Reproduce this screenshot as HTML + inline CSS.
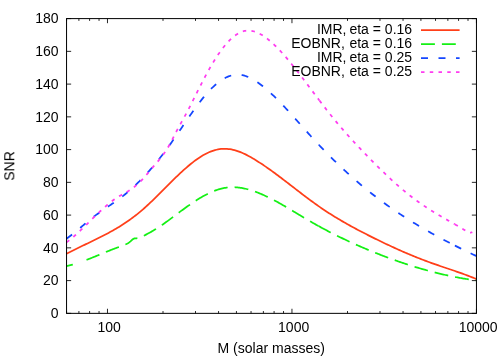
<!DOCTYPE html>
<html><head><meta charset="utf-8"><title>SNR vs M</title>
<style>
html,body{margin:0;padding:0;background:#fff;}
body{width:499px;height:357px;overflow:hidden;}
svg{display:block;}
text{font-family:"Liberation Sans",sans-serif;font-size:14px;fill:#000;}
.ax{fill:none;stroke:#000;stroke-width:1;}
.tk{stroke-width:0.85;}
.c{fill:none;stroke-width:1.75;stroke-linejoin:round;stroke-linecap:butt;}
.red{stroke:#ff3f19;}
.green{stroke:#14f014;stroke-dasharray:13.9 7;}
.g0{stroke-dasharray:6.5 14.5 13.9 7 13.9 7 13.9 7 13.9 7 13.9 7 13.9 7 13.9 7 13.9 7 13.9 7 13.9 7 13.9 7 13.9 7 13.9 7 13.9 7 13.9 7 13.9 7 13.9 7 13.9 7 13.9 7 13.9 7 13.9 7 13.9 7 13.9 7 13.9 7 13.9 7 13.9 7 13.9 7 13.9 7 13.9 7 13.9 7;}
.blue{stroke:#1446ff;stroke-dasharray:7 10.5;}
.mag{stroke:#ff3cf0;stroke-dasharray:3.5 5.25;}
</style></head><body>
<svg width="499" height="357" viewBox="0 0 499 357">
<rect width="499" height="357" fill="#fff"/>
<path class="c red" d="M66.50,253.80 L68.00,253.02 L69.50,252.24 L71.00,251.48 L72.50,250.72 L74.00,249.97 L75.50,249.22 L77.00,248.49 L78.50,247.76 L80.00,247.03 L81.50,246.30 L83.00,245.58 L84.50,244.86 L86.00,244.15 L87.50,243.43 L89.00,242.71 L90.50,241.99 L92.00,241.26 L93.50,240.54 L95.00,239.81 L96.50,239.07 L98.00,238.33 L99.50,237.59 L101.00,236.83 L102.50,236.07 L104.00,235.30 L105.50,234.52 L107.00,233.72 L108.50,232.92 L110.00,232.10 L111.50,231.27 L113.00,230.43 L114.50,229.57 L116.00,228.70 L117.50,227.81 L119.00,226.90 L120.50,225.97 L122.00,225.03 L123.50,224.06 L125.00,223.07 L126.50,222.07 L128.00,221.04 L129.50,219.98 L131.00,218.91 L132.50,217.80 L134.00,216.67 L135.50,215.52 L137.00,214.34 L138.50,213.13 L140.00,211.89 L141.50,210.62 L143.00,209.32 L144.50,207.99 L146.00,206.64 L147.50,205.27 L149.00,203.87 L150.50,202.45 L152.00,201.02 L153.50,199.57 L155.00,198.11 L156.50,196.63 L158.00,195.15 L159.50,193.65 L161.00,192.15 L162.50,190.65 L164.00,189.14 L165.50,187.64 L167.00,186.13 L168.50,184.63 L170.00,183.13 L171.50,181.64 L173.00,180.16 L174.50,178.69 L176.00,177.23 L177.50,175.79 L179.00,174.36 L180.50,172.95 L182.00,171.56 L183.50,170.20 L185.00,168.86 L186.50,167.54 L188.00,166.26 L189.50,165.00 L191.00,163.77 L192.50,162.58 L194.00,161.43 L195.50,160.31 L197.00,159.23 L198.50,158.20 L200.00,157.21 L201.50,156.26 L203.00,155.36 L204.50,154.51 L206.00,153.71 L207.50,152.97 L209.00,152.28 L210.50,151.65 L212.00,151.08 L213.50,150.57 L215.00,150.12 L216.50,149.74 L218.00,149.42 L219.50,149.17 L221.00,148.99 L222.50,148.87 L224.00,148.81 L225.50,148.82 L227.00,148.89 L228.50,149.03 L230.00,149.22 L231.50,149.47 L233.00,149.79 L234.50,150.16 L236.00,150.58 L237.50,151.06 L239.00,151.59 L240.50,152.17 L242.00,152.79 L243.50,153.46 L245.00,154.16 L246.50,154.90 L248.00,155.68 L249.50,156.49 L251.00,157.33 L252.50,158.20 L254.00,159.09 L255.50,160.01 L257.00,160.94 L258.50,161.89 L260.00,162.86 L261.50,163.85 L263.00,164.85 L264.50,165.86 L266.00,166.89 L267.50,167.94 L269.00,168.99 L270.50,170.06 L272.00,171.14 L273.50,172.23 L275.00,173.33 L276.50,174.44 L278.00,175.56 L279.50,176.68 L281.00,177.81 L282.50,178.95 L284.00,180.09 L285.50,181.24 L287.00,182.39 L288.50,183.55 L290.00,184.70 L291.50,185.86 L293.00,187.02 L294.50,188.18 L296.00,189.33 L297.50,190.49 L299.00,191.64 L300.50,192.80 L302.00,193.94 L303.50,195.09 L305.00,196.22 L306.50,197.36 L308.00,198.48 L309.50,199.60 L311.00,200.71 L312.50,201.81 L314.00,202.90 L315.50,203.98 L317.00,205.05 L318.50,206.11 L320.00,207.15 L321.50,208.18 L323.00,209.20 L324.50,210.21 L326.00,211.20 L327.50,212.18 L329.00,213.15 L330.50,214.11 L332.00,215.05 L333.50,215.99 L335.00,216.91 L336.50,217.83 L338.00,218.73 L339.50,219.62 L341.00,220.51 L342.50,221.38 L344.00,222.25 L345.50,223.10 L347.00,223.95 L348.50,224.79 L350.00,225.63 L351.50,226.45 L353.00,227.27 L354.50,228.08 L356.00,228.88 L357.50,229.68 L359.00,230.47 L360.50,231.26 L362.00,232.04 L363.50,232.81 L365.00,233.58 L366.50,234.34 L368.00,235.11 L369.50,235.86 L371.00,236.61 L372.50,237.36 L374.00,238.11 L375.50,238.85 L377.00,239.59 L378.50,240.32 L380.00,241.05 L381.50,241.77 L383.00,242.49 L384.50,243.21 L386.00,243.92 L387.50,244.63 L389.00,245.33 L390.50,246.03 L392.00,246.72 L393.50,247.41 L395.00,248.10 L396.50,248.77 L398.00,249.45 L399.50,250.12 L401.00,250.78 L402.50,251.44 L404.00,252.09 L405.50,252.74 L407.00,253.38 L408.50,254.01 L410.00,254.64 L411.50,255.27 L413.00,255.89 L414.50,256.50 L416.00,257.11 L417.50,257.71 L419.00,258.30 L420.50,258.89 L422.00,259.47 L423.50,260.05 L425.00,260.61 L426.50,261.18 L428.00,261.73 L429.50,262.28 L431.00,262.82 L432.50,263.36 L434.00,263.89 L435.50,264.41 L437.00,264.93 L438.50,265.45 L440.00,265.96 L441.50,266.47 L443.00,266.97 L444.50,267.48 L446.00,267.98 L447.50,268.49 L449.00,269.00 L450.50,269.50 L452.00,270.01 L453.50,270.52 L455.00,271.04 L456.50,271.55 L458.00,272.07 L459.50,272.60 L461.00,273.13 L462.50,273.67 L464.00,274.22 L465.50,274.77 L467.00,275.33 L468.50,275.90 L470.00,276.48 L471.50,277.07 L473.00,277.68 L474.50,278.29 L476.00,278.91 L476.30,279.04"/>
<path class="c green g0" d="M66.50,266.11 L67.50,265.88 L68.50,265.65 L69.50,265.40 L70.50,265.14 L71.50,264.88 L72.50,264.60 L73.50,264.31 L74.50,264.02 L75.50,263.72 L76.50,263.40 L77.50,263.08 L78.50,262.76 L79.50,262.42 L80.50,262.08 L81.50,261.73 L82.50,261.37 L83.50,261.01 L84.50,260.65 L85.50,260.27 L86.50,259.90 L87.50,259.52 L88.50,259.13 L89.50,258.74 L90.50,258.34 L91.50,257.95 L92.50,257.55 L93.50,257.14 L94.50,256.74 L95.50,256.33 L96.50,255.92 L97.50,255.51 L98.50,255.10 L99.50,254.68 L100.50,254.27 L101.50,253.86 L102.50,253.44 L103.50,253.03 L104.50,252.62 L105.50,252.21 L106.50,251.80 L107.50,251.39 L108.50,250.99 L109.50,250.58 L110.50,250.18 L111.50,249.79 L112.50,249.40 L113.50,249.01 L114.50,248.62 L115.50,248.24 L116.50,247.87 L117.50,247.50 L118.50,247.13 L119.50,246.78 L120.50,246.42 L121.50,246.06 L122.50,245.69 L123.50,245.31 L124.50,244.91 L125.50,244.48 L126.50,244.01 L127.50,243.49 L128.50,242.89 L129.50,242.19 L130.50,241.35 L131.50,240.41 L132.50,239.52 L133.50,238.82 L134.50,238.43 L135.50,238.29 L136.50,238.26 L137.50,238.18 L138.50,237.99 L139.50,237.70 L140.50,237.34 L141.50,236.91 L142.50,236.43 L143.50,235.93 L144.50,235.41 L145.50,234.89 L146.50,234.36 L147.50,233.82 L148.50,233.28 L149.50,232.74 L150.50,232.18 L151.50,231.62 L152.50,231.05 L153.50,230.46 L154.50,229.87 L155.50,229.26 L156.50,228.64 L157.50,228.00 L158.50,227.36 L159.50,226.70 L160.50,226.03 L161.50,225.35 L162.50,224.67 L163.50,223.97 L164.50,223.26 L165.50,222.55 L166.50,221.83 L167.50,221.10 L168.50,220.37 L169.50,219.64 L170.50,218.89 L171.50,218.15 L172.50,217.40 L173.50,216.65 L174.50,215.90 L175.50,215.15 L176.50,214.40 L177.50,213.65 L178.50,212.90 L179.50,212.16 L180.50,211.41 L181.50,210.67 L182.50,209.93 L183.50,209.20 L184.50,208.47 L185.50,207.75 L186.50,207.03 L187.50,206.31 L188.50,205.61 L189.50,204.91 L190.50,204.21 L191.50,203.53 L192.50,202.85 L193.50,202.18 L194.50,201.52 L195.50,200.87 L196.50,200.22 L197.50,199.59 L198.50,198.97 L199.50,198.36 L200.50,197.76 L201.50,197.17 L202.50,196.60 L203.50,196.04 L204.50,195.49 L205.50,194.95 L206.50,194.43 L207.50,193.92 L208.50,193.43 L209.50,192.96 L210.50,192.50 L211.50,192.05 L212.50,191.62 L213.50,191.21 L214.50,190.82 L215.50,190.44 L216.50,190.09 L217.50,189.75 L218.50,189.43 L219.50,189.13 L220.50,188.85 L221.50,188.59 L222.50,188.36 L223.50,188.14 L224.50,187.95 L225.50,187.77 L226.50,187.62 L227.50,187.50 L228.50,187.40 L229.50,187.32 L230.50,187.26 L231.50,187.22 L232.50,187.21 L233.50,187.21 L234.50,187.24 L235.50,187.28 L236.50,187.35 L237.50,187.44 L238.50,187.54 L239.50,187.66 L240.50,187.80 L241.50,187.96 L242.50,188.13 L243.50,188.33 L244.50,188.53 L245.50,188.76 L246.50,189.00 L247.50,189.25 L248.50,189.52 L249.50,189.80 L250.50,190.10 L251.50,190.41 L252.50,190.74 L253.50,191.07 L254.50,191.42 L255.50,191.78 L256.50,192.15 L257.50,192.53 L258.50,192.93 L259.50,193.33 L260.50,193.74 L261.50,194.17 L262.50,194.60 L263.50,195.04 L264.50,195.50 L265.50,195.96 L266.50,196.43 L267.50,196.91 L268.50,197.39 L269.50,197.89 L270.50,198.39 L271.50,198.90 L272.50,199.41 L273.50,199.94 L274.50,200.46 L275.50,201.00 L276.50,201.54 L277.50,202.09 L278.50,202.64 L279.50,203.20 L280.50,203.76 L281.50,204.33 L282.50,204.90 L283.50,205.47 L284.50,206.05 L285.50,206.63 L286.50,207.22 L287.50,207.81 L288.50,208.40 L289.50,208.99 L290.50,209.59 L291.50,210.18 L292.50,210.78 L293.50,211.38 L294.50,211.98 L295.50,212.59 L296.50,213.19 L297.50,213.79 L298.50,214.39 L299.50,215.00 L300.50,215.60 L301.50,216.20 L302.50,216.80 L303.50,217.40 L304.50,217.99 L305.50,218.59 L306.50,219.18 L307.50,219.77 L308.50,220.36 L309.50,220.94 L310.50,221.52 L311.50,222.10 L312.50,222.67 L313.50,223.24 L314.50,223.81 L315.50,224.37 L316.50,224.93 L317.50,225.49 L318.50,226.04"/>
<path class="c green" d="M318.50,226.04 L318.50,226.04 L319.50,226.59 L320.50,227.14 L321.50,227.68 L322.50,228.22 L323.50,228.76 L324.50,229.29 L325.50,229.82 L326.50,230.35 L327.50,230.87 L328.50,231.40 L329.50,231.91 L330.50,232.43 L331.50,232.94 L332.50,233.45 L333.50,233.96 L334.50,234.46 L335.50,234.96 L336.50,235.46 L337.50,235.95 L338.50,236.44 L339.50,236.93 L340.50,237.42 L341.50,237.90 L342.50,238.38 L343.50,238.86 L344.50,239.33 L345.50,239.81 L346.50,240.28 L347.50,240.74 L348.50,241.21 L349.50,241.67 L350.50,242.13 L351.50,242.58 L352.50,243.04 L353.50,243.49 L354.50,243.94 L355.50,244.39 L356.50,244.83 L357.50,245.27 L358.50,245.71 L359.50,246.15 L360.50,246.58 L361.50,247.02 L362.50,247.45 L363.50,247.88 L364.50,248.30 L365.50,248.72 L366.50,249.15 L367.50,249.57 L368.50,249.98 L369.50,250.40 L370.50,250.81 L371.50,251.22 L372.50,251.63 L373.50,252.04 L374.50,252.44 L375.50,252.84 L376.50,253.24 L377.50,253.64 L378.50,254.04 L379.50,254.43 L380.50,254.82 L381.50,255.21 L382.50,255.60 L383.50,255.98 L384.50,256.36 L385.50,256.74 L386.50,257.12 L387.50,257.50 L388.50,257.87 L389.50,258.24 L390.50,258.61 L391.50,258.98 L392.50,259.34 L393.50,259.70 L394.50,260.06 L395.50,260.42 L396.50,260.77 L397.50,261.12 L398.50,261.47 L399.50,261.82 L400.50,262.16 L401.50,262.51 L402.50,262.85 L403.50,263.18 L404.50,263.52 L405.50,263.85 L406.50,264.18 L407.50,264.51 L408.50,264.83 L409.50,265.15 L410.50,265.47 L411.50,265.79 L412.50,266.11 L413.50,266.42 L414.50,266.73 L415.50,267.04 L416.50,267.34 L417.50,267.64 L418.50,267.94 L419.50,268.24 L420.50,268.53 L421.50,268.82 L422.50,269.11 L423.50,269.40 L424.50,269.68 L425.50,269.96 L426.50,270.24 L427.50,270.51 L428.50,270.79 L429.50,271.06 L430.50,271.32 L431.50,271.59 L432.50,271.85 L433.50,272.11 L434.50,272.36 L435.50,272.62 L436.50,272.87 L437.50,273.11 L438.50,273.36 L439.50,273.60 L440.50,273.84 L441.50,274.07 L442.50,274.31 L443.50,274.54 L444.50,274.76 L445.50,274.99 L446.50,275.21 L447.50,275.43 L448.50,275.65 L449.50,275.86 L450.50,276.07 L451.50,276.27 L452.50,276.48 L453.50,276.68 L454.50,276.88 L455.50,277.07 L456.50,277.26 L457.50,277.45 L458.50,277.64 L459.50,277.82 L460.50,278.00 L461.50,278.18 L462.50,278.35 L463.50,278.52 L464.50,278.69 L465.50,278.85 L466.50,279.01 L467.50,279.17 L468.50,279.33 L469.50,279.48 L470.50,279.63 L471.50,279.77 L472.50,279.91 L473.50,280.05 L474.50,280.19 L475.50,280.32 L476.50,280.45"/>
<path class="c blue" d="M66.50,238.79 L67.50,238.05 L68.50,237.30 L69.50,236.54 L70.50,235.76 L71.50,234.98 L72.50,234.18 L73.50,233.38 L74.50,232.56 L75.50,231.74 L76.50,230.92 L77.50,230.09 L78.50,229.25 L79.50,228.42 L80.50,227.58 L81.50,226.74 L82.50,225.90 L83.50,225.06 L84.50,224.22 L85.50,223.39 L86.50,222.56 L87.50,221.73 L88.50,220.91 L89.50,220.10 L90.50,219.29 L91.50,218.50 L92.50,217.71 L93.50,216.93 L94.50,216.17 L95.50,215.41 L96.50,214.67 L97.50,213.94 L98.50,213.22 L99.50,212.50 L100.50,211.80 L101.50,211.10 L102.50,210.41 L103.50,209.72 L104.50,209.03 L105.50,208.35 L106.50,207.67 L107.50,207.00 L108.50,206.32 L109.50,205.64 L110.50,204.96 L111.50,204.28 L112.50,203.59 L113.50,202.91 L114.50,202.21 L115.50,201.51 L116.50,200.80 L117.50,200.09 L118.50,199.36 L119.50,198.63 L120.50,197.88 L121.50,197.13 L122.50,196.36 L123.50,195.57 L124.50,194.78 L125.50,193.97 L126.50,193.15 L127.50,192.31 L128.50,191.46 L129.50,190.60 L130.50,189.72 L131.50,188.83 L132.50,187.93 L133.50,187.02 L134.50,186.09 L135.50,185.15 L136.50,184.19 L137.50,183.22 L138.50,182.24 L139.50,181.25 L140.50,180.24 L141.50,179.22 L142.50,178.18 L143.50,177.14 L144.50,176.08 L145.50,175.00 L146.50,173.91 L147.50,172.81 L148.50,171.70 L149.50,170.57 L150.50,169.43 L151.50,168.28 L152.50,167.11 L153.50,165.94 L154.50,164.74 L155.50,163.54 L156.50,162.32 L157.50,161.09 L158.50,159.84 L159.50,158.58 L160.50,157.31 L161.50,156.03 L162.50,154.73 L163.50,153.42 L164.50,152.10 L165.50,150.76 L166.50,149.41 L167.50,148.05 L168.50,146.67 L169.50,145.28 L170.50,143.88 L171.50,142.46 L172.50,141.04 L173.50,139.61 L174.50,138.17 L175.50,136.72 L176.50,135.26 L177.50,133.80 L178.50,132.34 L179.50,130.87 L180.50,129.40 L181.50,127.93 L182.50,126.46 L183.50,124.99 L184.50,123.52 L185.50,122.06 L186.50,120.60 L187.50,119.14 L188.50,117.69 L189.50,116.25 L190.50,114.82 L191.50,113.39 L192.50,111.98 L193.50,110.57 L194.50,109.19 L195.50,107.81 L196.50,106.45 L197.50,105.10 L198.50,103.77 L199.50,102.46 L200.50,101.17 L201.50,99.89 L202.50,98.64 L203.50,97.41 L204.50,96.20 L205.50,95.02 L206.50,93.86 L207.50,92.73 L208.50,91.63 L209.50,90.55 L210.50,89.50 L211.50,88.48 L212.50,87.50 L213.50,86.54 L214.50,85.62 L215.50,84.73 L216.50,83.88 L217.50,83.05 L218.50,82.27 L219.50,81.51 L220.50,80.80 L221.50,80.12 L222.50,79.47 L223.50,78.87 L224.50,78.30 L225.50,77.77 L226.50,77.28 L227.50,76.83 L228.50,76.42 L229.50,76.05 L230.50,75.72 L231.50,75.44 L232.50,75.19 L233.50,74.99 L234.50,74.84 L235.50,74.72 L236.50,74.65 L237.50,74.63 L238.50,74.65 L239.50,74.72 L240.50,74.83 L241.50,74.99 L242.50,75.18 L243.50,75.42 L244.50,75.69 L245.50,76.00 L246.50,76.35 L247.50,76.74 L248.50,77.16 L249.50,77.61 L250.50,78.10 L251.50,78.61 L252.50,79.16 L253.50,79.74 L254.50,80.34 L255.50,80.97 L256.50,81.63 L257.50,82.31 L258.50,83.01 L259.50,83.74 L260.50,84.49 L261.50,85.26 L262.50,86.04 L263.50,86.85 L264.50,87.67 L265.50,88.51 L266.50,89.36 L267.50,90.23 L268.50,91.11 L269.50,92.01 L270.50,92.92 L271.50,93.85 L272.50,94.79 L273.50,95.74 L274.50,96.71 L275.50,97.68 L276.50,98.67 L277.50,99.67 L278.50,100.67 L279.50,101.69 L280.50,102.72 L281.50,103.76 L282.50,104.80 L283.50,105.86 L284.50,106.92 L285.50,107.99 L286.50,109.06 L287.50,110.14 L288.50,111.23 L289.50,112.33 L290.50,113.42 L291.50,114.53 L292.50,115.63 L293.50,116.75 L294.50,117.86 L295.50,118.98 L296.50,120.10 L297.50,121.22 L298.50,122.34 L299.50,123.46 L300.50,124.59 L301.50,125.71 L302.50,126.84 L303.50,127.96 L304.50,129.08 L305.50,130.20 L306.50,131.32 L307.50,132.44 L308.50,133.55 L309.50,134.66 L310.50,135.76 L311.50,136.86 L312.50,137.96 L313.50,139.05 L314.50,140.14 L315.50,141.22 L316.50,142.29 L317.50,143.36 L318.50,144.43 L318.80,144.74"/>
<path class="c blue" d="M318.80,144.74 L319.50,145.49 L320.50,146.54 L321.50,147.59 L322.50,148.64 L323.50,149.68 L324.50,150.71 L325.50,151.74 L326.50,152.76 L327.50,153.78 L328.50,154.79 L329.50,155.80 L330.50,156.81 L331.50,157.80 L332.50,158.80 L333.50,159.78 L334.50,160.77 L335.50,161.74 L336.50,162.72 L337.50,163.68 L338.50,164.64 L339.50,165.60 L340.50,166.55 L341.50,167.50 L342.50,168.44 L343.50,169.37 L344.50,170.30 L345.50,171.23 L346.50,172.15 L347.50,173.06 L348.50,173.97 L349.50,174.88 L350.50,175.78 L351.50,176.67 L352.50,177.56 L353.50,178.44 L354.50,179.32 L355.50,180.19 L356.50,181.06 L357.50,181.92 L358.50,182.78 L359.50,183.63 L360.50,184.48 L361.50,185.32 L362.50,186.16 L363.50,186.99 L364.50,187.81 L365.50,188.63 L366.50,189.45 L367.50,190.26 L368.50,191.06 L369.50,191.86 L370.50,192.66 L371.50,193.45 L372.50,194.24 L373.50,195.02 L374.50,195.79 L375.50,196.56 L376.50,197.33 L377.50,198.09 L378.50,198.85 L379.50,199.60 L380.50,200.35 L381.50,201.09 L382.50,201.83 L383.50,202.56 L384.50,203.29 L385.50,204.01 L386.50,204.73 L387.50,205.45 L388.50,206.16 L389.50,206.87 L390.50,207.57 L391.50,208.27 L392.50,208.96 L393.50,209.66 L394.50,210.34 L395.50,211.02 L396.50,211.70 L397.50,212.38 L398.50,213.05 L399.50,213.71 L400.50,214.38 L401.50,215.03 L402.50,215.69 L403.50,216.34 L404.50,216.99 L405.50,217.63 L406.50,218.27 L407.50,218.91 L408.50,219.54 L409.50,220.17 L410.50,220.79 L411.50,221.41 L412.50,222.03 L413.50,222.65 L414.50,223.26 L415.50,223.87 L416.50,224.47 L417.50,225.07 L418.50,225.67 L419.50,226.27 L420.50,226.86 L421.50,227.45 L422.50,228.04 L423.50,228.62 L424.50,229.20 L425.50,229.78 L426.50,230.35 L427.50,230.92 L428.50,231.49 L429.50,232.05 L430.50,232.62 L431.50,233.18 L432.50,233.73 L433.50,234.29 L434.50,234.84 L435.50,235.39 L436.50,235.93 L437.50,236.48 L438.50,237.02 L439.50,237.56 L440.50,238.09 L441.50,238.63 L442.50,239.16 L443.50,239.69 L444.50,240.22 L445.50,240.74 L446.50,241.26 L447.50,241.78 L448.50,242.30 L449.50,242.82 L450.50,243.33 L451.50,243.84 L452.50,244.35 L453.50,244.86 L454.50,245.37 L454.90,245.57"/>
<path class="c blue" d="M454.90,245.57 L455.50,245.87 L456.50,246.37 L457.50,246.88 L458.50,247.37 L459.50,247.87 L460.50,248.37 L461.50,248.86 L462.50,249.35 L463.50,249.84 L464.50,250.33 L465.50,250.82 L466.50,251.30 L467.50,251.79 L468.50,252.27 L469.50,252.75 L470.50,253.23 L471.50,253.71 L472.50,254.19 L473.50,254.67 L474.50,255.14 L475.50,255.62 L476.30,255.99"/>
<path class="c mag" d="M66.50,242.42 L67.50,241.67 L68.50,240.90 L69.50,240.11 L70.50,239.30 L71.50,238.47 L72.50,237.63 L73.50,236.77 L74.50,235.90 L75.50,235.01 L76.50,234.11 L77.50,233.20 L78.50,232.27 L79.50,231.34 L80.50,230.40 L81.50,229.45 L82.50,228.49 L83.50,227.52 L84.50,226.55 L85.50,225.57 L86.50,224.60 L87.50,223.61 L88.50,222.63 L89.50,221.64 L90.50,220.66 L91.50,219.67 L92.50,218.69 L93.50,217.71 L94.50,216.74 L95.50,215.77 L96.50,214.80 L97.50,213.84 L98.50,212.89 L99.50,211.94 L100.50,211.01 L101.50,210.08 L102.50,209.17 L103.50,208.26 L104.50,207.37 L105.50,206.49 L106.50,205.63 L107.50,204.78 L108.50,203.94 L109.50,203.13 L110.50,202.33 L111.50,201.55 L112.50,200.79 L113.50,200.04 L114.50,199.32 L115.50,198.63 L116.50,197.95 L117.50,197.30 L118.50,196.67 L119.50,196.07 L120.50,195.49 L121.50,194.93 L122.50,194.37 L123.50,193.83 L124.50,193.28 L125.50,192.72 L126.50,192.16 L127.50,191.57 L128.50,190.97 L129.50,190.33 L130.50,189.67 L131.50,188.98 L132.50,188.27 L133.50,187.52 L134.50,186.74 L135.50,185.93 L136.50,185.09 L137.50,184.21 L138.50,183.30 L139.50,182.36 L140.50,181.38 L141.50,180.36 L142.50,179.31 L143.50,178.22 L144.50,177.10 L145.50,175.95 L146.50,174.79 L147.50,173.60 L148.50,172.41 L149.50,171.21 L150.50,170.01 L151.50,168.81 L152.50,167.62 L153.50,166.44 L154.50,165.27 L155.50,164.11 L156.50,162.96 L157.50,161.79 L158.50,160.61 L159.50,159.41 L160.50,158.18 L161.50,156.92 L162.50,155.62 L163.50,154.27 L164.50,152.86 L165.50,151.40 L166.50,149.86 L167.50,148.25 L168.50,146.55 L169.50,144.77 L170.50,142.93 L171.50,141.03 L172.50,139.09 L173.50,137.13 L174.50,135.16 L175.50,133.20 L176.50,131.27 L177.50,129.38 L178.50,127.53 L179.50,125.70 L180.50,123.90 L181.50,122.10 L182.50,120.31 L183.50,118.52 L184.50,116.71 L185.50,114.88 L186.50,113.02 L187.50,111.13 L188.50,109.22 L189.50,107.30 L190.50,105.35 L191.50,103.39 L192.50,101.42 L193.50,99.44 L194.50,97.45 L195.50,95.46 L196.50,93.47 L197.50,91.48 L198.50,89.50 L199.50,87.52 L200.50,85.55 L201.50,83.59 L202.50,81.65 L203.50,79.73 L204.50,77.82 L205.50,75.94 L206.50,74.09 L207.50,72.26 L208.50,70.46 L209.50,68.68 L210.50,66.94 L211.50,65.22 L212.50,63.54 L213.50,61.88 L214.50,60.26 L215.50,58.67 L216.50,57.12 L217.50,55.60 L218.50,54.11 L219.50,52.67 L220.50,51.26 L221.50,49.89 L222.50,48.55 L223.50,47.26 L224.50,46.01 L225.50,44.80 L226.50,43.64 L227.50,42.51 L228.50,41.44 L229.50,40.40 L230.50,39.42 L231.50,38.48 L232.50,37.59 L233.50,36.75 L234.50,35.96 L235.50,35.21 L236.50,34.52 L237.50,33.89 L238.50,33.30 L239.50,32.77 L240.50,32.30 L241.50,31.88 L242.50,31.52 L243.50,31.22 L244.50,30.97 L245.50,30.79 L246.50,30.66 L247.50,30.59 L248.50,30.57 L249.50,30.61 L250.50,30.70 L251.50,30.84 L252.50,31.03 L253.50,31.27 L254.50,31.56 L255.50,31.89 L256.50,32.26 L257.50,32.68 L258.50,33.14 L259.50,33.64 L260.50,34.18 L261.50,34.76 L262.50,35.37 L263.50,36.01 L264.50,36.69 L265.50,37.41 L266.50,38.15 L267.50,38.92 L268.50,39.72 L269.50,40.54 L270.50,41.39 L271.50,42.27 L272.50,43.17 L273.50,44.09 L274.50,45.04 L275.50,46.00 L276.50,46.99 L277.50,48.00 L278.50,49.04 L279.50,50.09 L280.50,51.15 L281.50,52.24 L282.50,53.35 L283.50,54.47 L284.50,55.60 L285.50,56.76 L286.50,57.92 L287.50,59.10 L288.50,60.30 L289.50,61.50 L290.50,62.72 L291.50,63.95 L292.50,65.19 L293.50,66.44 L294.50,67.70 L295.50,68.97 L296.50,70.24 L297.50,71.53 L298.50,72.82 L299.50,74.11 L300.50,75.41 L301.50,76.72 L302.50,78.02 L303.50,79.34 L304.50,80.66 L305.50,81.98 L306.50,83.30 L307.50,84.63 L308.50,85.95 L309.50,87.28 L310.50,88.61 L311.50,89.94 L312.50,91.28 L313.50,92.61 L314.50,93.94 L315.50,95.26 L316.50,96.59 L317.50,97.92 L318.50,99.24 L319.41,100.45"/>
<path class="c mag" d="M319.41,100.45 L319.50,100.56 L320.50,101.88 L321.50,103.19 L322.50,104.50 L323.50,105.80 L324.50,107.10 L325.50,108.39 L326.50,109.68 L327.50,110.96 L328.50,112.24 L329.50,113.50 L330.50,114.76 L331.50,116.01 L332.50,117.25 L333.50,118.49 L334.50,119.71 L335.50,120.92 L336.50,122.13 L337.50,123.33 L338.50,124.52 L339.50,125.70 L340.50,126.87 L341.50,128.04 L342.50,129.19 L343.50,130.34 L344.50,131.49 L345.50,132.62 L346.50,133.75 L347.50,134.87 L348.50,135.99 L349.50,137.10 L350.50,138.20 L351.50,139.30 L352.50,140.39 L353.50,141.48 L354.50,142.56 L355.50,143.64 L356.50,144.71 L357.50,145.78 L358.50,146.84 L359.50,147.90 L360.50,148.95 L361.50,150.00 L362.50,151.05 L363.50,152.09 L364.50,153.14 L365.50,154.17 L366.50,155.21 L367.50,156.24 L368.50,157.27 L369.50,158.29 L370.50,159.32 L371.50,160.33 L372.50,161.35 L373.50,162.36 L374.50,163.37 L375.50,164.37 L376.50,165.37 L377.50,166.37 L378.50,167.36 L379.50,168.34 L380.50,169.33 L381.50,170.30 L382.50,171.28 L383.50,172.24 L384.50,173.20 L385.50,174.16 L386.50,175.11 L387.50,176.06 L388.50,177.00 L389.50,177.93 L390.50,178.86 L391.50,179.79 L392.50,180.70 L393.50,181.61 L394.50,182.52 L395.50,183.41 L396.50,184.30 L397.50,185.19 L398.50,186.06 L399.50,186.93 L400.50,187.80 L401.50,188.65 L402.50,189.50 L403.50,190.34 L404.50,191.17 L405.50,192.00 L406.50,192.81 L407.50,193.62 L408.50,194.42 L409.50,195.21 L410.50,196.00 L411.50,196.77 L412.50,197.54 L413.50,198.29 L414.50,199.04 L415.50,199.79 L416.50,200.52 L417.50,201.25 L418.50,201.97 L419.50,202.68 L420.50,203.38 L421.50,204.08 L422.50,204.77 L423.50,205.45 L424.50,206.13 L425.50,206.79 L426.50,207.46 L427.50,208.11 L428.50,208.76 L429.50,209.41 L430.50,210.04 L431.50,210.68 L432.50,211.30 L433.50,211.92 L434.50,212.54 L435.50,213.15 L436.50,213.75 L437.50,214.35 L438.50,214.94 L439.50,215.53 L440.50,216.12 L441.50,216.70 L442.50,217.27 L443.50,217.85 L444.50,218.42 L445.50,218.99 L446.50,219.55 L447.50,220.12 L448.50,220.68 L449.50,221.25 L450.50,221.81 L451.50,222.38 L452.50,222.95 L453.50,223.52 L454.50,224.09 L454.80,224.26"/>
<path class="c mag" d="M454.80,224.26 L455.50,224.66 L456.50,225.24 L457.50,225.82 L458.50,226.40 L459.50,226.99 L460.50,227.59 L461.50,228.19 L462.50,228.79 L463.50,229.41 L464.50,230.03 L465.50,230.66 L466.50,231.28 L467.50,231.84 L468.50,232.30 L469.50,232.60 L470.50,232.69 L471.50,232.51 L472.30,232.14"/>
<path class="ax tk" d="M66.55,313.35v-2.3M66.55,18.6v2.3M78.90,313.35v-2.3M78.90,18.6v2.3M89.60,313.35v-2.3M89.60,18.6v2.3M99.04,313.35v-2.3M99.04,18.6v2.3M107.48,313.35v-4.6M107.48,18.6v4.6M163.01,313.35v-2.3M163.01,18.6v2.3M195.50,313.35v-2.3M195.50,18.6v2.3M218.55,313.35v-2.3M218.55,18.6v2.3M236.43,313.35v-2.3M236.43,18.6v2.3M251.04,313.35v-2.3M251.04,18.6v2.3M263.39,313.35v-2.3M263.39,18.6v2.3M274.09,313.35v-2.3M274.09,18.6v2.3M283.52,313.35v-2.3M283.52,18.6v2.3M291.96,313.35v-4.6M291.96,18.6v4.6M347.50,313.35v-2.3M347.50,18.6v2.3M379.99,313.35v-2.3M379.99,18.6v2.3M403.04,313.35v-2.3M403.04,18.6v2.3M420.91,313.35v-2.3M420.91,18.6v2.3M435.52,313.35v-2.3M435.52,18.6v2.3M447.87,313.35v-2.3M447.87,18.6v2.3M458.57,313.35v-2.3M458.57,18.6v2.3M468.01,313.35v-2.3M468.01,18.6v2.3M476.45,313.35v-4.6M476.45,18.6v4.6M66.55,313.35h4.6M476.45,313.35h-4.6M66.55,280.60h4.6M476.45,280.60h-4.6M66.55,247.85h4.6M476.45,247.85h-4.6M66.55,215.10h4.6M476.45,215.10h-4.6M66.55,182.35h4.6M476.45,182.35h-4.6M66.55,149.60h4.6M476.45,149.60h-4.6M66.55,116.85h4.6M476.45,116.85h-4.6M66.55,84.10h4.6M476.45,84.10h-4.6M66.55,51.35h4.6M476.45,51.35h-4.6M66.55,18.60h4.6M476.45,18.60h-4.6"/>
<rect class="ax" x="66.55" y="18.6" width="409.9" height="294.75"/>
<g style="opacity:0.999">
<text x="58.6" y="318.10" text-anchor="end">0</text><text x="58.6" y="285.35" text-anchor="end">20</text><text x="58.6" y="252.60" text-anchor="end">40</text><text x="58.6" y="219.85" text-anchor="end">60</text><text x="58.6" y="187.10" text-anchor="end">80</text><text x="58.6" y="154.35" text-anchor="end">100</text><text x="58.6" y="121.60" text-anchor="end">120</text><text x="58.6" y="88.85" text-anchor="end">140</text><text x="58.6" y="56.10" text-anchor="end">160</text><text x="58.6" y="23.35" text-anchor="end">180</text>
<text x="109.18" y="332.1" text-anchor="middle">100</text><text x="293.66" y="332.1" text-anchor="middle">1000</text><text x="478.15" y="332.1" text-anchor="middle">10000</text>
<text transform="translate(14.3,166) rotate(-90)" text-anchor="middle">SNR</text>
<text x="271.2" y="352.9" text-anchor="middle">M (solar masses)</text>
<text x="316.95" y="34.20">IMR,</text><text x="412.1" y="34.20" text-anchor="end">eta = 0.16</text><text x="291.2" y="48.25">EOBNR,</text><text x="412.1" y="48.25" text-anchor="end">eta = 0.16</text><text x="316.95" y="62.30">IMR,</text><text x="412.1" y="62.30" text-anchor="end">eta = 0.25</text><text x="291.2" y="76.35">EOBNR,</text><text x="412.1" y="76.35" text-anchor="end">eta = 0.25</text>
</g>
<path class="c red" d="M421,30.00H459.6"/><path class="c green" d="M421,44.05H459.6"/><path class="c blue" d="M421,58.10H459.6"/><path class="c mag" d="M421,72.15H459.6"/>
</svg>
</body></html>
